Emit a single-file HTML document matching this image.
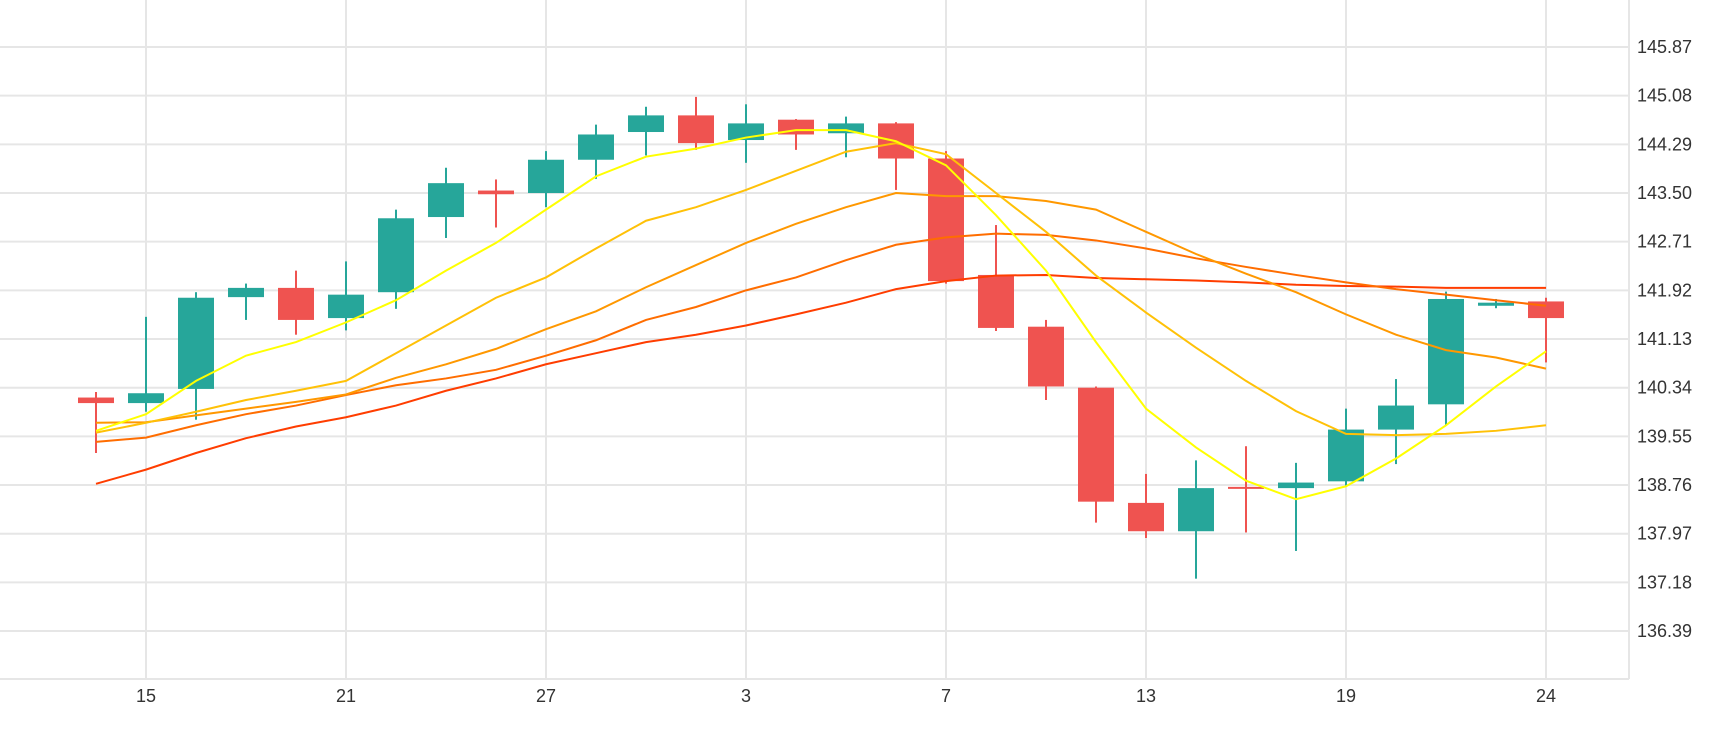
<!DOCTYPE html>
<html><head><meta charset="utf-8"><style>
html,body{margin:0;padding:0;background:#fff;}
svg{display:block;font-family:"Liberation Sans",sans-serif;}
</style></head><body>
<svg id="chart" width="1730" height="730"></svg>
<script>
const dates=[14,15,16,17,20,21,22,23,24,27,28,29,30,3,4,5,6,7,10,11,12,13,14,17,18,19,20,21,23,24];
const opens=[140.18,140.09,140.32,141.81,141.96,141.47,141.89,143.11,143.54,143.50,144.04,144.49,144.76,144.36,144.69,144.47,144.63,144.06,142.17,141.33,140.34,138.47,138.01,138.73,138.71,138.82,139.66,140.07,141.67,141.74];
const highs=[140.27,141.49,141.89,142.03,142.24,142.39,143.23,143.91,143.72,144.18,144.61,144.90,145.06,144.94,144.70,144.74,144.65,144.18,142.98,141.44,140.36,138.94,139.16,139.39,139.12,140.00,140.48,141.90,141.78,141.80];
const lows=[139.28,139.95,139.82,141.44,141.20,141.27,141.62,142.77,142.94,143.27,143.73,144.11,144.20,143.99,144.20,144.08,143.55,142.03,141.26,140.14,138.15,137.90,137.24,137.99,137.69,138.74,139.10,139.73,141.63,140.75];
const closes=[140.09,140.25,141.80,141.96,141.44,141.85,143.09,143.66,143.48,144.04,144.45,144.76,144.31,144.63,144.45,144.63,144.06,142.07,141.31,140.36,138.49,138.01,138.71,138.71,138.80,139.66,140.05,141.78,141.72,141.47];
const ma1=[139.64,139.91,140.45,140.86,141.08,141.40,141.76,142.24,142.69,143.23,143.77,144.09,144.22,144.40,144.52,144.52,144.34,143.95,143.14,142.24,141.08,140.00,139.37,138.83,138.53,138.74,139.19,139.73,140.36,140.93];
const ma2=[139.61,139.77,139.95,140.14,140.29,140.45,140.90,141.35,141.80,142.13,142.60,143.05,143.27,143.55,143.86,144.17,144.31,144.13,143.50,142.87,142.16,141.56,140.99,140.45,139.96,139.59,139.57,139.59,139.64,139.73];
const ma3=[139.77,139.78,139.89,140.00,140.11,140.23,140.50,140.72,140.97,141.29,141.58,141.97,142.33,142.69,143.00,143.27,143.50,143.45,143.45,143.37,143.23,142.87,142.51,142.19,141.89,141.53,141.20,140.95,140.83,140.65];
const ma4=[139.46,139.53,139.73,139.91,140.05,140.22,140.38,140.49,140.63,140.86,141.11,141.44,141.65,141.92,142.13,142.41,142.66,142.78,142.84,142.82,142.73,142.60,142.44,142.30,142.17,142.05,141.94,141.85,141.76,141.67];
const ma5=[138.78,139.01,139.28,139.52,139.71,139.86,140.05,140.29,140.49,140.72,140.90,141.08,141.20,141.35,141.53,141.72,141.94,142.07,142.16,142.17,142.12,142.10,142.08,142.05,142.01,141.99,141.98,141.96,141.96,141.96];
const yTicks=[145.87,145.08,144.29,143.50,142.71,141.92,141.13,140.34,139.55,138.76,137.97,137.18,136.39];
const xTickIdx=[1,5,9,13,17,21,25,29];

const NS='http://www.w3.org/2000/svg';
const svg=document.getElementById('chart');
const PR=1629,PB=679;
function X(i){return 96+50*i;}
function Y(p){return 47+(145.87-p)/0.79*48.67;}
function mk(t,a,parent){const e=document.createElementNS(NS,t);for(const k in a)e.setAttribute(k,a[k]);(parent||svg).appendChild(e);return e;}

yTicks.forEach(function(v){
  const g=mk('line',{x1:0,x2:PR,y1:Y(v),y2:Y(v),stroke:'#e6e6e6','stroke-width':2});
  
  
  const t=mk('text',{x:1637,y:Y(v)+6,'font-size':18,fill:'#333'});
  t.textContent=v.toFixed(2);
  
  
});
xTickIdx.forEach(function(i){
  const g=mk('line',{x1:X(i),x2:X(i),y1:0,y2:PB,stroke:'#e6e6e6','stroke-width':2});
  
  
  const t=mk('text',{x:X(i),y:702,'font-size':18,fill:'#333','text-anchor':'middle'});
  t.textContent=dates[i];
  
  
});
const bx=mk('line',{x1:0,x2:PR,y1:PB,y2:PB,stroke:'#e6e6e6','stroke-width':2});


const by=mk('line',{x1:PR,x2:PR,y1:0,y2:PB,stroke:'#e6e6e6','stroke-width':2});



for(let i=0;i<dates.length;i++){
  const up=closes[i]>=opens[i];
  const c=up?'#26a69a':'#ef5350';
  const g=mk('g',{});
  
  
  mk('line',{x1:X(i),x2:X(i),y1:Y(highs[i]),y2:Y(lows[i]),stroke:c,'stroke-width':2},g);
  const top=Y(Math.max(opens[i],closes[i])),bot=Y(Math.min(opens[i],closes[i]));
  mk('rect',{x:X(i)-18,y:top,width:36,height:Math.max(bot-top,2),fill:c},g);
}

const series=[[ma5,'#ff3d00','ma-line-60'],[ma4,'#ff6d00','ma-line-30'],[ma3,'#ff9800','ma-line-20'],[ma2,'#ffc107','ma-line-10'],[ma1,'#ffff00','ma-line-5']];
series.forEach(function(s){
  const d=s[0].map(function(v,i){return (i?'L':'M')+X(i)+' '+Y(v);}).join(' ');
  const p=mk('path',{d:d,fill:'none',stroke:s[1],'stroke-width':2});
  
  
});
</script>
</body></html>
